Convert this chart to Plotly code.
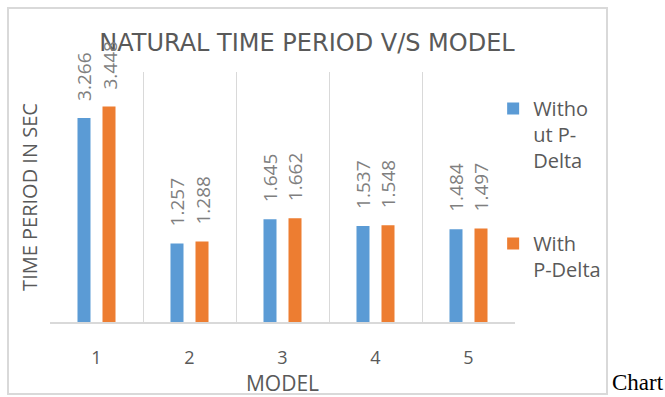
import plotly.graph_objects as go

models = ["1", "2", "3", "4", "5"]
without_pdelta = [3.266, 1.257, 1.645, 1.537, 1.484]
with_pdelta = [3.448, 1.288, 1.662, 1.548, 1.497]
series_names = ["Witho<br>ut P-<br>Delta", "With<br>P-Delta"]
series_colors = ["#5b9bd5", "#ed7d31"]

GRAY = "#595959"
LABEL_GRAY = "#7f7f7f"
FONT = "Open Sans"

fig = go.Figure()
for i, (vals, name, col) in enumerate(zip([without_pdelta, with_pdelta], series_names, series_colors)):
    fig.add_trace(go.Bar(
        x=models, y=vals, name=name, marker=dict(color=col, line=dict(width=0)),
        legendgroup=f"g{i}",
    ))

# data labels (rotated) above each bar; category axis positions are indices
annotations = []
for i, vals in enumerate([without_pdelta, with_pdelta]):
    shift = -12.5 if i == 0 else 12.5
    for idx, v in enumerate(vals):
        annotations.append(dict(
            x=idx, y=v, xref="x", yref="y", text=f"{v:.3f}", showarrow=False,
            textangle=-90, xanchor="center", yanchor="bottom",
            xshift=shift, yshift=15,
            font=dict(family=FONT, size=19, color=LABEL_GRAY),
        ))

annotations.append(dict(
    text="Chart", xref="paper", yref="paper", x=1.204, y=-0.30,
    xanchor="left", yanchor="bottom", showarrow=False,
    font=dict(family="Liberation Serif", size=23, color="black"),
))

fig.update_layout(
    width=665, height=397,
    margin=dict(l=50, r=150, t=72, b=75),
    paper_bgcolor="white", plot_bgcolor="white",
    barmode="group", bargap=0.462, bargroupgap=0.48,
    title=dict(
        text="NATURAL TIME PERIOD V/S MODEL",
        x=307 / 665, xanchor="center", y=1 - 43 / 397, yanchor="middle",
        font=dict(family="DejaVu Sans", size=24, color=GRAY),
    ),
    xaxis=dict(
        type="category", tickson="boundaries", showgrid=True, gridcolor="#d9d9d9", gridwidth=1,
        showline=True, linecolor="#d9d9d9", linewidth=2, ticks="",
        tickfont=dict(family=FONT, size=18, color=GRAY), ticklabelstandoff=18,
        title=dict(text="MODEL", font=dict(family=FONT, size=21, color=GRAY), standoff=0),
        automargin=False, zeroline=False, range=[-0.5, 4.5],
    ),
    yaxis=dict(
        range=[0, 4], showgrid=False, showticklabels=False, zeroline=False, showline=False,
        title=dict(text="TIME PERIOD IN SEC", font=dict(family=FONT, size=20, color=GRAY), standoff=6),
        automargin=False,
    ),
    legend=dict(
        x=0.953, xanchor="left", y=0.932, yanchor="top",
        font=dict(family=FONT, size=20, color=GRAY),
        valign="top", tracegroupgap=54, bgcolor="rgba(0,0,0,0)",
    ),
    annotations=annotations,
    shapes=[dict(
        type="rect", xref="paper", yref="paper",
        x0=(8 - 50) / 465, x1=(607 - 50) / 465,
        y0=(322 - 394) / 250, y1=(322 - 8) / 250,
        line=dict(color="#d9d9d9", width=2), fillcolor="rgba(0,0,0,0)", layer="below",
    )],
    showlegend=True,
)

fig.write_html("out.html")
